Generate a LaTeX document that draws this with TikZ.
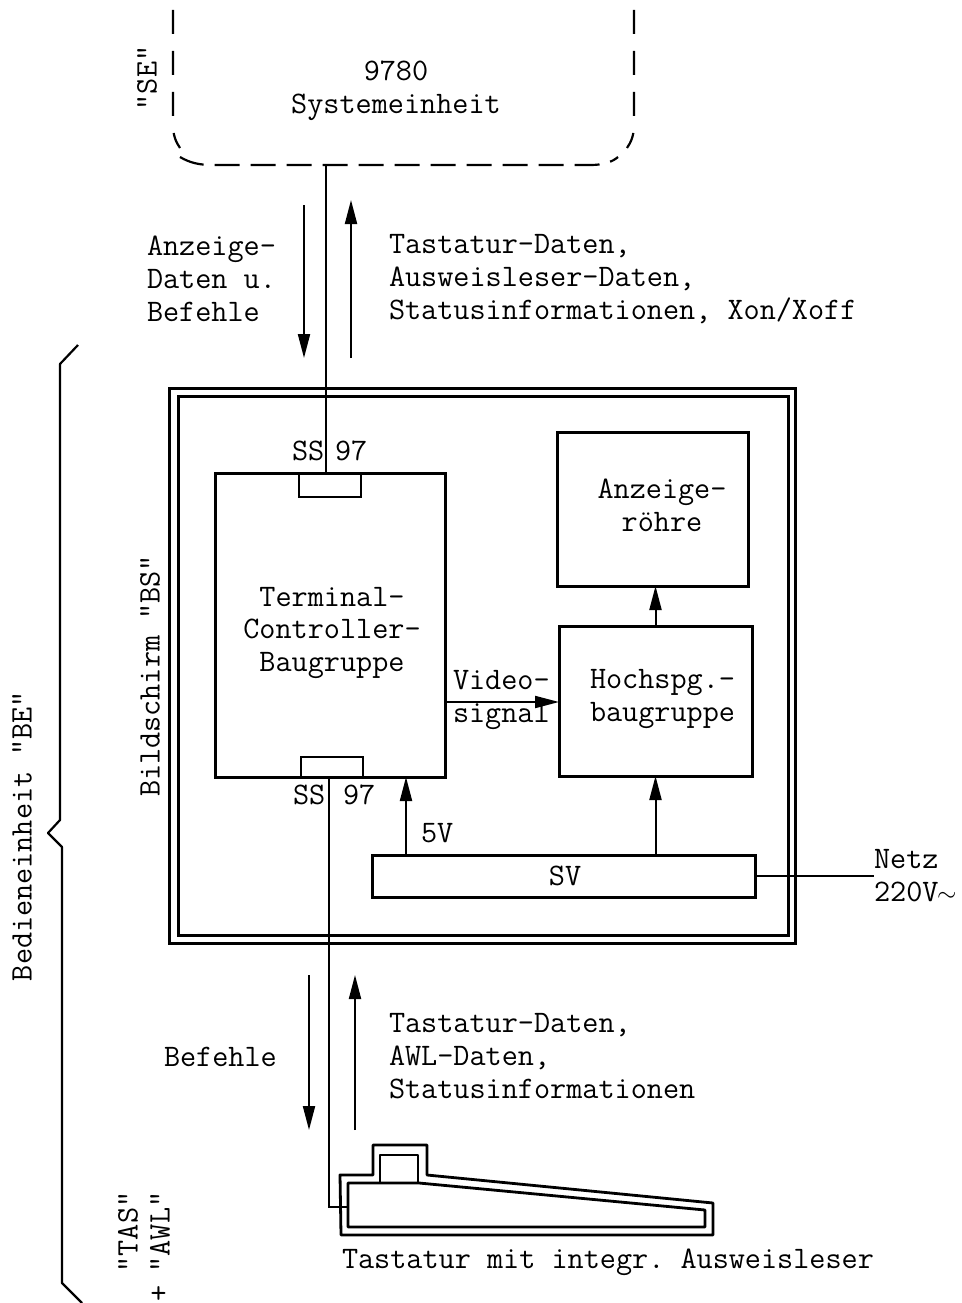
\documentclass[tikz,border=0pt]{standalone}
\usepackage{tikz}
\usetikzlibrary{arrows.meta}

\begin{document}
\begin{tikzpicture}[x=1pt, y=-1pt,
  lbl/.style={inner sep=0pt, outer sep=0pt, align=left, anchor=west, font=\fontsize{31.3}{32.8}\selectfont\ttfamily},
  ctr/.style={lbl, align=center, anchor=center},
  rot/.style={ctr, rotate=90},
  frame/.style={draw, line width=3pt, inner sep=0pt, outer sep=0pt},
  blockbox/.style={draw, line width=3pt, inner sep=0pt, outer sep=0pt},
  sock/.style={draw, line width=2.4pt, inner sep=0pt, outer sep=0pt},
  wire/.style={line width=2pt},
  arr/.style={wire, -{Triangle[length=24pt, width=12pt]}},
  dash1/.style={line width=2.2pt, dash pattern=on 24pt off 17pt},
  dash2/.style={line width=2.2pt, dash pattern=on 25pt off 11pt},
  kbd/.style={line width=2.8pt, line join=round},
]
  \useasboundingbox (0,0) rectangle (961,1303);

  % system unit
  \draw[dash1] (173,10) -- (173,124) .. controls (173,136) and (176,142) .. (180,148);
  \draw[dash1] (634,10) -- (634,124) .. controls (634,136) and (631,142) .. (627,148);
  \draw[dash2] (180,157) .. controls (190,163) and (200,165) .. (212,165) -- (590,165) .. controls (604,165) and (612,162) .. (618,157);
  \node[ctr] (se) at (396,91) {9780\\Systemeinheit};
  \node[rot] (selbl) at (147,78) {"SE"};
  \coordinate (setop) at (326,165);

  % screen unit
  \node[frame, minimum width=626pt, minimum height=555pt] (outer) at (482,665.5) {};
  \node[frame, minimum width=610pt, minimum height=539pt] (inner) at (483,666) {};
  \node[rot] (bslbl) at (150,676) {Bildschirm "BS"};

  \node[blockbox, minimum width=230pt, minimum height=304pt] (tc) at (330,625) {};
  \node[ctr] (tctext) at (332,633) {Terminal-\\Controller-\\Baugruppe};
  \node[sock, minimum width=62pt, minimum height=24pt] (socktop) at (330,485) {};
  \node[sock, minimum width=62pt, minimum height=20pt] (sockbot) at (332,767) {};
  \node[lbl] (sstop) at (292,451) {SS};
  \node[lbl] (nntop) at (335,451) {97};
  \node[lbl] (ssbot) at (293,795) {SS};
  \node[lbl] (nnbot) at (343,795) {97};

  \node[blockbox, minimum width=191pt, minimum height=154pt] (roehre) at (652.5,509) {};
  \node[ctr] (rtext) at (662,505) {Anzeige-\\röhre};
  \node[blockbox, minimum width=193pt, minimum height=150pt] (hs) at (655.5,701) {};
  \node[lbl] (hstext) at (590,699) {Hochspg.-\\baugruppe};
  \node[blockbox, minimum width=383pt, minimum height=42pt] (sv) at (563.5,876) {};
  \node[ctr] (svtext) at (565,876) {SV};

  \draw[arr] (hs.north) -- (hs.north |- roehre.south);
  \draw[arr] (sv.north -| hs.north) -- (hs.south);
  \coordinate (c5v) at (406,855);
  \draw[arr] (c5v) -- (c5v |- tc.south);
  \node[lbl] (fivev) at (421,833) {5V};
  \coordinate (cvid) at (445,702);
  \draw[arr] (cvid) -- (cvid -| hs.west);
  \node[lbl] (vid1) at (453,680) {Video-};
  \node[lbl] (vid2) at (453,717) {signal};

  % mains
  \node[lbl] (netz) at (874,876) {Netz\\220V\makebox[.525em]{$\sim$}};
  \draw[wire] (sv.east) -- (netz.west);

  % upper link
  \draw[wire] (setop) -- (setop |- tc.north);
  \coordinate (a1) at (304,205);
  \coordinate (a2) at (351,358);
  \draw[arr] (a1) -- (304,358);
  \draw[arr] (a2) -- (351,200);
  \node[lbl] (ul) at (147,279) {Anzeige-\\Daten u.\\Befehle};
  \node[lbl] (ur) at (389,279) {Tastatur-Daten,\\Ausweisleser-Daten,\\Statusinformationen,\ Xon/Xoff};

  % keyboard
  \draw[kbd] (340,1175) -- (373,1175) -- (373,1145) -- (427,1145) -- (427,1175) -- (713,1203) -- (713,1235) -- (341,1235) -- cycle;
  \draw[kbd] (348,1183) -- (419,1183) -- (705,1210) -- (705,1227) -- (348,1227) -- cycle;
  \draw[kbd] (380,1182) -- (380,1155) -- (418,1155) -- (418,1182);
  \coordinate (kb) at (347,1207);
  \node[lbl] (kbtext) at (342,1262) {Tastatur mit integr.\ Ausweisleser};

  % lower link
  \coordinate (lo) at (329,777);
  \draw[wire] (lo) |- (kb);
  \coordinate (a3) at (309,975);
  \coordinate (a4) at (355,1130);
  \draw[arr] (a3) -- (309,1130);
  \draw[arr] (a4) -- (355,975);
  \node[lbl] (ll) at (164,1057) {Befehle};
  \node[lbl] (lr) at (389,1056) {Tastatur-Daten,\\AWL-Daten,\\Statusinformationen};

  % operating unit
  \draw[line width=2.2pt, line join=round] (78,345) -- (60,364) -- (60,820) -- (48,833) -- (62,847) -- (62,1283) -- (82,1303);
  \node[rot] (belbl) at (22,836) {Bedieneinheit "BE"};
  \node[rot] (tas) at (128,1232) {"TAS"};
  \node[rot] (awl) at (160,1232) {"AWL"};
  \node[rot] (plus) at (160,1293) {+};
\end{tikzpicture}
\end{document}
